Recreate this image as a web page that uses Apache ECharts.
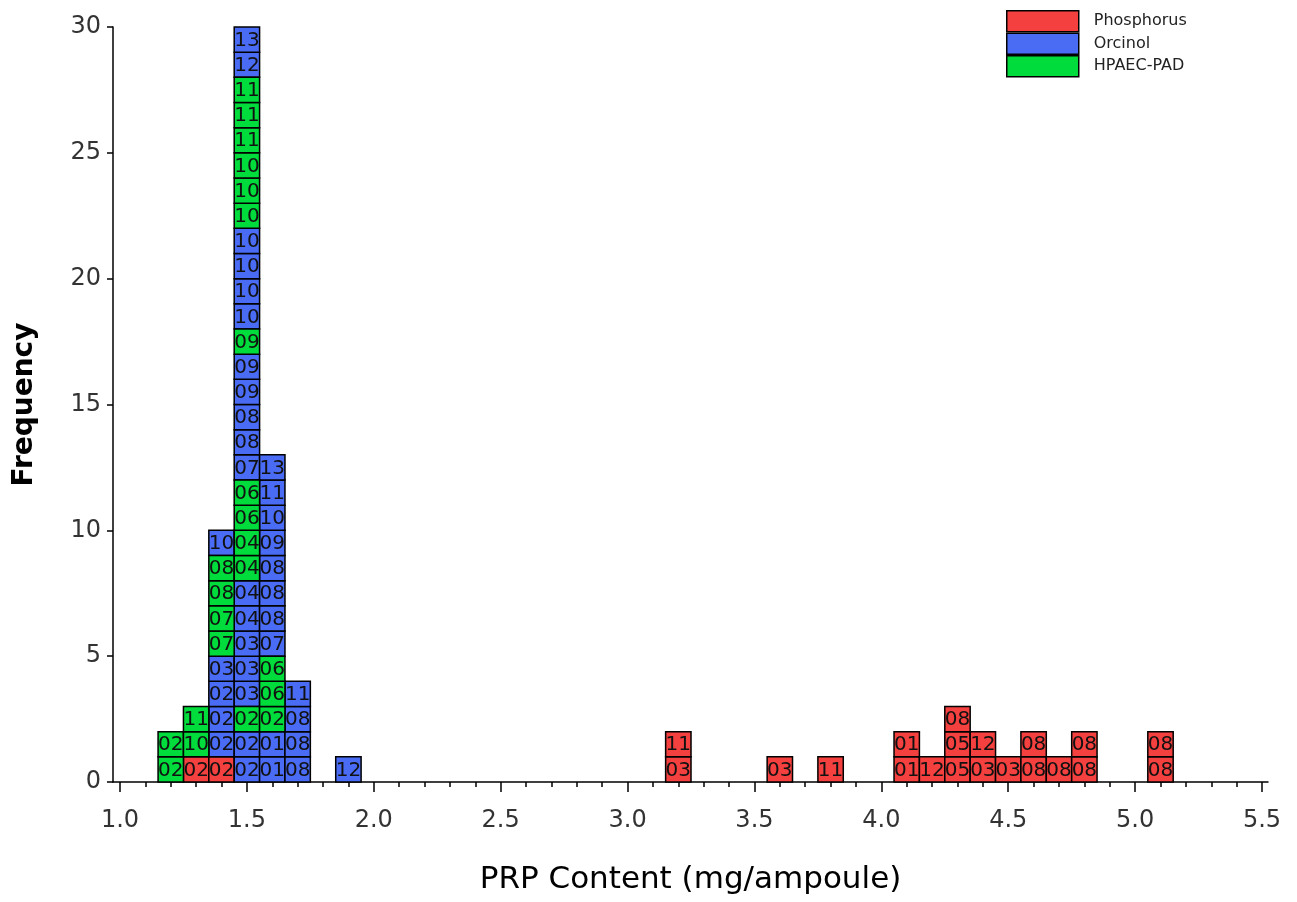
<!DOCTYPE html>
<html>
<head>
<meta charset="utf-8">
<script src="https://cdn.jsdelivr.net/npm/echarts@6/dist/echarts.min.js"></script>
<style>
html,body{margin:0;padding:0;background:#fff;}
#chart{width:1297px;height:902px;}
</style>
</head>
<body>
<div id="chart"></div>
<script>
// Bin centres (mg/ampoule), bin width 0.1
const binCenters = [1.2, 1.3, 1.4, 1.5, 1.6, 1.7, 1.9, 3.2, 3.6, 3.8, 4.1, 4.2, 4.3, 4.4, 4.5, 4.6, 4.7, 4.8, 5.1];
// Stacked cells per bin, bottom to top: method code (P/O/H) + lab number
const binStacks = [
  ['H02','H02'],
  ['P02','H10','H11'],
  ['P02','O02','O02','O02','O03','H07','H07','H08','H08','O10'],
  ['O02','O02','H02','O03','O03','O03','O04','O04','H04','H04','H06','H06','O07','O08','O08','O09','O09','H09','O10','O10','O10','O10','H10','H10','H10','H11','H11','H11','O12','O13'],
  ['O01','O01','H02','H06','H06','O07','O08','O08','O08','O09','O10','O11','O13'],
  ['O08','O08','O08','O11'],
  ['O12'],
  ['P03','P11'],
  ['P03'],
  ['P11'],
  ['P01','P01'],
  ['P12'],
  ['P05','P05','P08'],
  ['P03','P12'],
  ['P03'],
  ['P08','P08'],
  ['P08'],
  ['P08','P08'],
  ['P08','P08']
];
const methodCodes = ['P', 'O', 'H'];
const methodNames = ['Phosphorus', 'Orcinol', 'HPAEC-PAD'];
const methodColors = ['#F4403F', '#4A6CF5', '#00DC3B'];
const binWidth = 0.1;
const xMajorTicks = [1.0, 1.5, 2.0, 2.5, 3.0, 3.5, 4.0, 4.5, 5.0, 5.5];
const xMinorTicks = [1.0,1.1,1.2,1.3,1.4,1.5,1.6,1.7,1.8,1.9,2.0,2.1,2.2,2.3,2.4,2.5,2.6,2.7,2.8,2.9,3.0,3.1,3.2,3.3,3.4,3.5,3.6,3.7,3.8,3.9,4.0,4.1,4.2,4.3,4.4,4.5,4.6,4.7,4.8,4.9,5.0,5.1,5.2,5.3,5.4,5.5];

const FONT = "'DejaVu Sans', Verdana, sans-serif";

// Build per-method data: [xCenter, level], with lab labels kept in parallel arrays
const seriesData = methodCodes.map(() => []);
const seriesLabs = methodCodes.map(() => []);
binStacks.forEach((stack, bi) => {
  stack.forEach((cell, level) => {
    const m = methodCodes.indexOf(cell[0]);
    seriesData[m].push([binCenters[bi], level]);
    seriesLabs[m].push(cell.slice(1));
  });
});

const chart = echarts.init(document.getElementById('chart'), null, {renderer: 'canvas'});

const series = methodCodes.map((code, m) => ({
  type: 'custom',
  name: methodNames[m],
  xAxisIndex: 0,
  yAxisIndex: 0,
  itemStyle: {color: methodColors[m], borderColor: '#000', borderWidth: 1.5},
  data: seriesData[m],
  renderItem: function (params, api) {
    const x = api.value(0), lv = api.value(1);
    const p0 = api.coord([x - binWidth / 2, lv + 1]);
    const p1 = api.coord([x + binWidth / 2, lv]);
    const lab = seriesLabs[m][params.dataIndex];
    return {
      type: 'group',
      children: [
        {
          type: 'rect',
          shape: {x: p0[0], y: p0[1], width: p1[0] - p0[0], height: p1[1] - p0[1]},
          style: {fill: methodColors[m], stroke: '#000', lineWidth: 1.5}
        },
        {
          type: 'text',
          z2: 10,
          style: {
            text: lab,
            x: (p0[0] + p1[0]) / 2,
            y: (p0[1] + p1[1]) / 2 + 1,
            align: 'center',
            verticalAlign: 'middle',
            fill: '#111',
            font: "20px " + FONT
          }
        }
      ]
    };
  }
}));

const option = {
  backgroundColor: '#fff',
  animation: false,
  grid: {left: 113, right: 29, top: 27, bottom: 120, containLabel: false},
  legend: {
    orient: 'vertical',
    left: 1006,
    top: 10,
    padding: 0,
    itemWidth: 72,
    itemHeight: 21,
    itemGap: 0,
    icon: 'rect',
    itemStyle: {borderColor: '#000', borderWidth: 1.5},
    textStyle: {fontFamily: FONT, fontSize: 16, color: '#222', padding: [0, 0, 0, 10], lineHeight: 18},
    data: methodNames
  },
  xAxis: [
    {
      type: 'value',
      min: 0.9724,
      max: 5.5236,
      name: 'PRP Content (mg/ampoule)',
      nameLocation: 'middle',
      nameGap: 82,
      nameTextStyle: {fontFamily: FONT, fontSize: 31, color: '#000'},
      axisLine: {show: true, onZero: false, lineStyle: {color: '#000', width: 1.5}},
      axisTick: {show: true, length: 10, lineStyle: {color: '#000', width: 1.5}, customValues: xMajorTicks},
      axisLabel: {
        show: true, margin: 27, fontFamily: FONT, fontSize: 24, color: '#333',
        customValues: xMajorTicks,
        formatter: v => Number(v).toFixed(1)
      },
      splitLine: {show: false}
    },
    {
      type: 'value',
      min: 0.9724,
      max: 5.5236,
      position: 'bottom',
      offset: 0,
      axisLine: {show: false},
      axisTick: {show: true, length: 5, lineStyle: {color: '#000', width: 1.5}, customValues: xMinorTicks},
      axisLabel: {show: false},
      splitLine: {show: false}
    }
  ],
  yAxis: {
    type: 'value',
    min: 0,
    max: 30,
    interval: 5,
    name: 'Frequency',
    nameLocation: 'middle',
    nameGap: 74,
    nameTextStyle: {fontFamily: FONT, fontSize: 28, fontWeight: 'bold', color: '#000'},
    axisLine: {show: true, onZero: false, lineStyle: {color: '#000', width: 1.5}},
    axisTick: {show: true, length: 6, lineStyle: {color: '#000', width: 1.5}},
    axisLabel: {show: true, margin: 12, fontFamily: FONT, fontSize: 24, color: '#333'},
    splitLine: {show: false}
  },
  series: series
};

chart.setOption(option);
</script>
</body>
</html>
